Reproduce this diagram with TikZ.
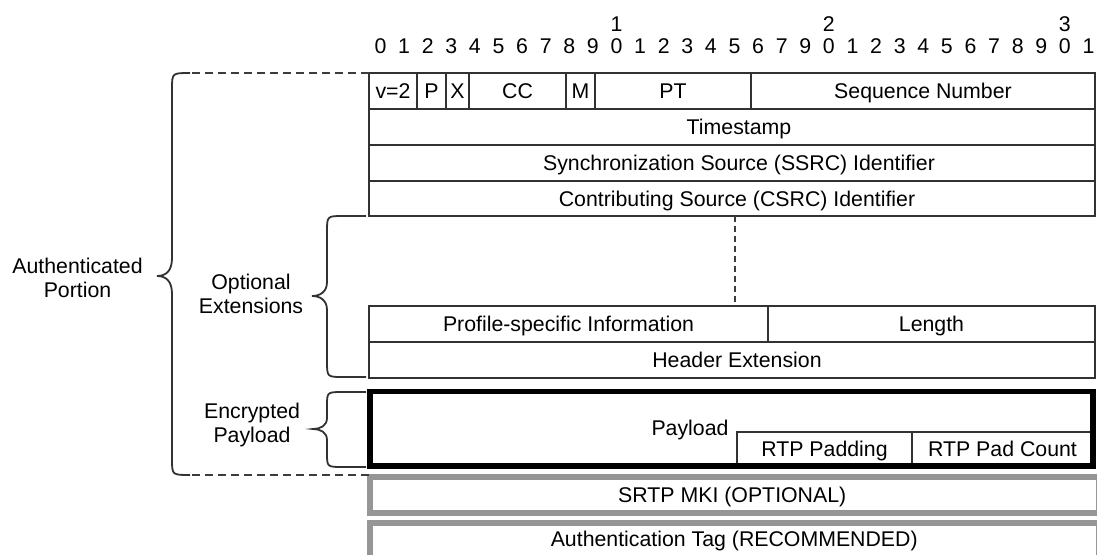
\documentclass[tikz,border=0pt]{standalone}
\usepackage{fontspec}
\setmainfont{Liberation Sans}
\newcommand\myfont{\fontsize{21.3}{23.5}\selectfont}
\definecolor{linecol}{RGB}{50,50,50}
\definecolor{graybox}{RGB}{150,150,150}
\definecolor{dashcol}{RGB}{60,60,60}
\tikzset{
  fld/.style={draw=linecol, line width=1.8pt, inner sep=0pt, outer sep=0pt,
    font=\myfont, text height=15pt, text depth=0pt},
  txt/.style={inner sep=0pt, outer sep=0pt, font=\myfont, text height=15pt, text depth=0pt},
  two/.style={inner sep=0pt, font=\myfont, align=center},
  bit/.style={inner sep=0pt, font=\myfont, text height=15pt, text depth=0pt},
  bracecol/.style={draw=linecol, line width=1.8pt},
  dashline/.style={draw=dashcol, line width=1.8pt, dash pattern=on 8pt off 5pt},
  vdash/.style={draw=dashcol, line width=1.8pt, dash pattern=on 6pt off 4pt},
  thickbox/.style={draw=black, line width=5.5pt, inner sep=0pt, outer sep=0pt},
  graybx/.style={draw=graybox, line width=6pt, inner sep=0pt, outer sep=0pt,
    font=\myfont, text height=15pt, text depth=0pt},
}
\begin{document}
\begin{tikzpicture}[x=1pt,y=-1pt]
\useasboundingbox[fill=white] (0,0) rectangle (1097,554);

% bit numbers
\foreach \d [count=\i from 0] in {0,1,2,3,4,5,6,7,8,9,0,1,2,3,4,5,6,7,9,0,1,2,3,4,5,6,7,8,9,0,1}
  \node[bit] (b\i) at (380.5+23.6*\i,45.5) {\d};
\node[bit] (t1) at ([yshift=21.5pt]b10.center) {1};
\node[bit] (t2) at ([yshift=21.5pt]b19.center) {2};
\node[bit] (t3) at ([yshift=21.5pt]b29.center) {3};

% row 1
\node[fld, minimum width=48pt, minimum height=35.5pt] (ver) at (393,91) {v=2};
\node[fld, minimum width=29pt, minimum height=35.5pt] (pad) at (431.5,91) {P};
\node[fld, minimum width=23pt, minimum height=35.5pt] (ext) at (457.5,91) {X};
\node[fld, minimum width=97pt, minimum height=35.5pt] (cc) at (517.5,91) {CC};
\node[fld, minimum width=29pt, minimum height=35.5pt] (mk) at (580.5,91) {M};
\node[fld, minimum width=156pt, minimum height=35.5pt] (pt) at (673,91) {PT};
\node[fld, minimum width=344pt, minimum height=35.5pt] (seq) at (923,91) {Sequence Number};
% rows 2-4
\node[fld, minimum width=726pt, minimum height=36.5pt] (ts) at (732,126.75) {\hspace*{14pt}Timestamp};
\node[fld, minimum width=726pt, minimum height=36pt] (ssrc) at (732,163) {\hspace*{14pt}Synchronization Source (SSRC) Identifier};
\node[fld, minimum width=726pt, minimum height=35pt] (csrc) at (732,198.5) {\hspace*{10pt}Contributing Source (CSRC) Identifier};

% dashed continuation
\coordinate (dtop) at (735,216);
\coordinate (dbot) at (735,305);
\draw[vdash] (dtop) -- (dbot);

% extension rows
\node[fld, minimum width=399pt, minimum height=36pt] (prof) at (568.5,324) {Profile-specific Information};
\node[fld, minimum width=327pt, minimum height=36pt] (len) at (931.5,324) {Length};
\node[fld, minimum width=726pt, minimum height=36pt] (hext) at (732,360) {\hspace*{10pt}Header Extension};

% payload
\node[fld, minimum width=175pt, minimum height=34pt] (rpad) at (824.5,449) {RTP Padding};
\node[fld, minimum width=181pt, minimum height=34pt] (rcnt) at (1002.5,449) {RTP Pad Count};
\node[thickbox, minimum width=723pt, minimum height=74.5pt] (paybox) at (731.5,428.75) {};
\node[txt] (pl) at (690,428) {Payload};

% gray boxes
\node[graybx, minimum width=728.5pt, minimum height=36.5pt] (mki) at (734.25,494.75) {\hspace*{-4pt}SRTP MKI (OPTIONAL)};
\node[graybx, minimum width=728.5pt, minimum height=37pt] (tag) at (734.25,541.5) {\raisebox{3pt}{Authentication Tag (RECOMMENDED)}};

% big brace (authenticated portion)
\draw[bracecol] (190,73) .. controls (172,73) .. (172,89) -- (172,258)
  .. controls (172,271) and (166,276) .. (157,276)
  .. controls (166,276) and (172,281) .. (172,294) -- (172,459)
  .. controls (172,475) .. (190,475);
\coordinate (da1) at (192,73); \coordinate (da2) at (369,73);
\coordinate (db1) at (192,475); \coordinate (db2) at (369,475);
\draw[dashline] (da1) -- (da2);
\draw[dashline] (db1) -- (db2);
\node[two] (auth) at (77.5,278) {Authenticated\\Portion};

% optional extensions brace
\draw[bracecol] (366,216) -- (343,216) .. controls (327,216) .. (327,232) -- (327,282)
  .. controls (327,292) and (320,296) .. (312,296)
  .. controls (320,296) and (327,300) .. (327,310) -- (327,361)
  .. controls (327,377) .. (343,377) -- (366,377);
\node[two] (opt) at (251,294) {Optional\\Extensions};

% encrypted payload brace
\draw[bracecol] (366,392) -- (343,392) .. controls (327,392) .. (327,406) -- (327,418)
  .. controls (327,426) and (320,429) .. (313,429)
  .. controls (320,429) and (327,432) .. (327,440) -- (327,453)
  .. controls (327,467) .. (343,467) -- (366,467);
\node[two] (enc) at (252,425) {Encrypted\\Payload};
\end{tikzpicture}
\end{document}
